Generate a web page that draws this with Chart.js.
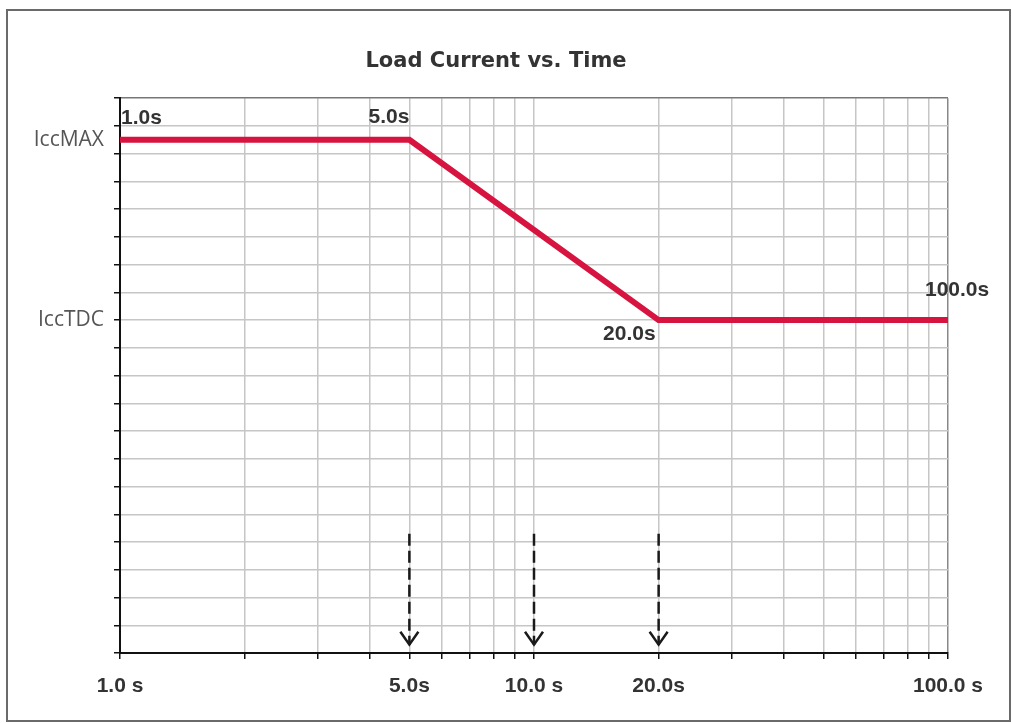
<!DOCTYPE html>
<html>
<head>
<meta charset="utf-8">
<script src="https://cdn.jsdelivr.net/npm/chart.js"></script>
<style>
  html, body { margin: 0; padding: 0; background: #fff; }
  #wrap { position: relative; width: 1012px; height: 723px; }
  #frame { position: absolute; left: 6px; top: 9px; width: 1001px; height: 709px; border: 2px solid #6a6a6a; pointer-events: none; }
</style>
</head>
<body>
<div id="wrap">
  <canvas id="loadChart" width="1012" height="723"></canvas>
  <div id="frame"></div>
</div>
<script>
// data
const stepTimes = [1, 5, 20, 100];          // seconds
const stepLevels = [18.5, 18.5, 12, 12];    // grid units, 0..20
const stepLabels = ["1.0s", "5.0s", "20.0s", "100.0s"];

const arrowTimes = [5, 10, 20];
const arrowFrom = 4.3;
const arrowTo = 0.3;

const xTickValues = [1, 2, 3, 4, 5, 6, 7, 8, 9, 10, 20, 30, 40, 50, 60, 70, 80, 90, 100];
const xTickText = { 1: "1.0 s", 5: "5.0s", 10: "10.0 s", 20: "20.0s", 100: "100.0 s" };

const yTickValues = [0, 1, 2, 3, 4, 5, 6, 7, 8, 9, 10, 11, 12, 13, 14, 15, 16, 17, 18, 18.5, 19, 20];
const yTickText = { 18.5: "IccMAX", 12: "IccTDC" };

// offsets for the point captions (pixels)
const captionPos = [
    { dx: 1, dy: -22, align: "left" },
    { dx: 0, dy: -23, align: "right" },
    { dx: -3, dy: 14, align: "right" },
    { dx: -23, dy: -30, align: "left" }
];

const captionPlugin = {
    id: "captions",
    afterDatasetsDraw(chart) {
        const ctx = chart.ctx;
        const meta = chart.getDatasetMeta(0);
        ctx.save();
        ctx.font = "bold 21px 'Liberation Sans', Arial, sans-serif";
        ctx.fillStyle = "#333";
        ctx.textBaseline = "middle";
        meta.data.forEach((pt, i) => {
            const p = captionPos[i];
            ctx.textAlign = p.align;
            ctx.fillText(stepLabels[i], pt.x + p.dx, pt.y + p.dy);
        });

        // arrow heads at the end of each dashed line
        ctx.strokeStyle = "#1a1a1a";
        ctx.lineWidth = 2.5;
        ctx.setLineDash([]);
        for (let d = 1; d <= arrowTimes.length; d++) {
            const tip = chart.getDatasetMeta(d).data[1];
            ctx.beginPath();
            ctx.moveTo(tip.x - 9, tip.y - 13);
            ctx.lineTo(tip.x, tip.y);
            ctx.lineTo(tip.x + 9, tip.y - 13);
            ctx.stroke();
        }
        ctx.restore();
    }
};

const datasets = [{
    label: "Load current",
    data: stepTimes.map((t, i) => ({ x: t, y: stepLevels[i] })),
    borderColor: "#d7143f",
    borderWidth: 6,
    pointRadius: 0,
    borderJoinStyle: "miter",
    tension: 0
}];
arrowTimes.forEach(t => {
    datasets.push({
        label: "t" + t,
        data: [{ x: t, y: arrowFrom }, { x: t, y: arrowTo }],
        borderColor: "#1a1a1a",
        borderWidth: 2.5,
        borderDash: [12, 5],
        pointRadius: 0
    });
});

new Chart(document.getElementById("loadChart").getContext("2d"), {
    type: "line",
    data: { datasets: datasets },
    plugins: [captionPlugin],
    options: {
        responsive: false,
        animation: false,
        layout: { padding: { top: 40, left: 30, right: 50, bottom: 0 } },
        plugins: {
            legend: { display: false },
            tooltip: { enabled: false },
            title: {
                display: true,
                text: "Load Current vs. Time",
                color: "#333",
                font: { family: "'DejaVu Sans', sans-serif", size: 21, weight: "bold" },
                padding: { top: 9, bottom: 24 }
            }
        },
        scales: {
            x: {
                type: "logarithmic",
                min: 1,
                max: 100,
                afterBuildTicks: s => { s.ticks = xTickValues.map(v => ({ value: v })); },
                afterFit: s => { s.height = 70; },
                ticks: {
                    autoSkip: false,
                    maxRotation: 0,
                    padding: 15,
                    color: "#333",
                    font: { family: "'Liberation Sans', Arial, sans-serif", size: 21, weight: "bold" },
                    callback: v => xTickText[v] || ""
                },
                grid: {
                    color: c => c.tick && c.tick.value === 100 ? "#888" : "#c6c6c6",
                    lineWidth: 1.5,
                    tickLength: 6,
                    tickColor: "#111"
                },
                border: { color: "#111", width: 2 }
            },
            y: {
                type: "linear",
                min: 0,
                max: 20,
                afterBuildTicks: s => { s.ticks = yTickValues.map(v => ({ value: v })); },
                afterFit: s => { s.width = 90; },
                ticks: {
                    autoSkip: false,
                    padding: 10,
                    color: "#555",
                    font: { family: "'Open Sans', sans-serif", size: 21 },
                    callback: v => yTickText[v] || ""
                },
                grid: {
                    color: c => {
                        if (!c.tick) return "#c6c6c6";
                        if (c.tick.value === 18.5) return "rgba(0,0,0,0)";
                        return c.tick.value === 20 ? "#777" : "#c6c6c6";
                    },
                    lineWidth: 1.5,
                    tickLength: 6,
                    tickColor: c => c.tick && c.tick.value === 18.5 ? "rgba(0,0,0,0)" : "#111"
                },
                border: { color: "#111", width: 2 }
            },
            // empty right-hand axis, only reserves room so the plot ends where the original does
            yRight: {
                type: "linear",
                position: "right",
                min: 0,
                max: 20,
                afterFit: s => { s.width = 14; },
                ticks: { display: false },
                grid: { display: false, drawTicks: false },
                border: { display: false }
            }
        }
    }
});
</script>
</body>
</html>
